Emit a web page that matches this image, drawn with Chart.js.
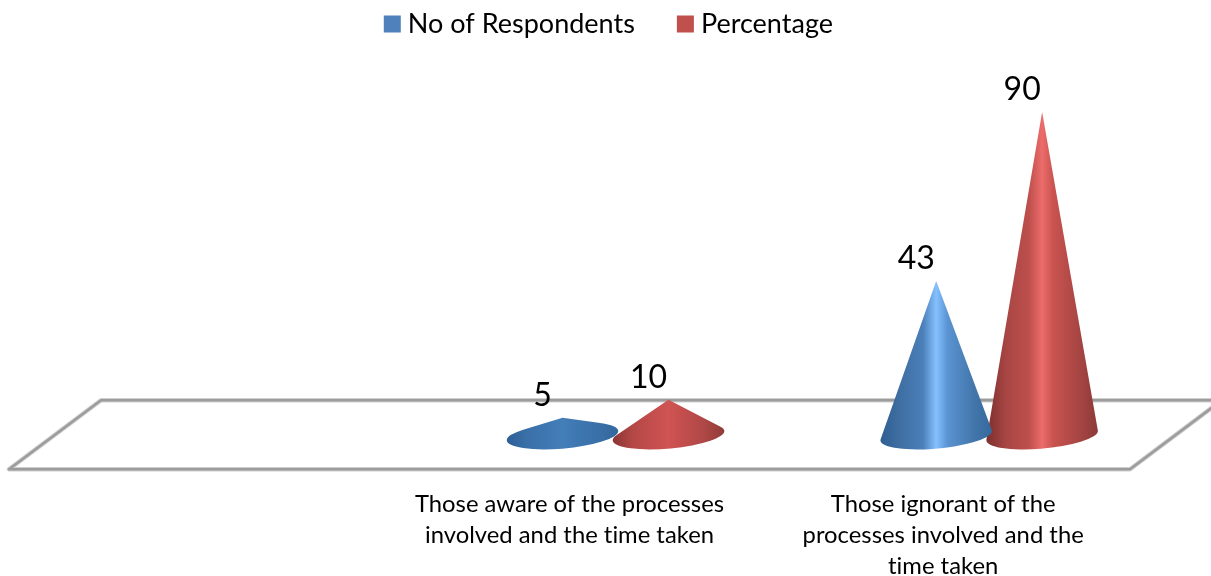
<!DOCTYPE html>
<html>
<head>
<meta charset="utf-8">
<style>
  html, body { margin: 0; padding: 0; background: #fff; }
  canvas { display: block; }
</style>
<script src="https://cdn.jsdelivr.net/npm/chart.js@4"></script>
</head>
<body>
<canvas id="coneChart" width="1211" height="576"></canvas>
<script>
// first category is empty in the original chart
const categories = [
    '',
    ['Those aware of the processes', 'involved and the time taken'],
    ['Those ignorant of the', 'processes involved and the', 'time taken']
];
const respondents = [null, 5, 43];
const percentage = [null, 10, 90];

const fontName = 'Lato, sans-serif';
const depth = 92;        // how far the back edge of the floor is shifted right
const floorRise = 69;    // how far it is shifted up
const tilt = -5 * Math.PI / 180;
const legendShift = 42;  // legend sits over the whole floor, not just the front edge

const gradients = {
    blue: {
        tall: ['#2f5f92', '#3f6fa3', '#4a7fb8', '#85c0ff', '#5a94d2', '#4478ad', '#35689c'],
        flat: ['#2d5f95', '#3a70a8', '#3f78b2', '#457fb9', '#3f78b2', '#3a70a8', '#33679c']
    },
    red: {
        tall: ['#7c2f2d', '#a84644', '#bd4f4c', '#ec6c6b', '#c9534f', '#a84644', '#8c3a38'],
        flat: ['#8a3533', '#b34846', '#c64f4e', '#cf5453', '#c64f4e', '#ae4846', '#8f3b39']
    }
};

const floorPlugin = {
    id: 'floor',
    afterLayout(chart) {
        chart.legend.left += legendShift;
        chart.legend.right += legendShift;
    },
    beforeDraw(chart) {
        // tiny spacing switches off the Lato "ti" ligature
        chart.ctx.letterSpacing = '0.01px';
    },
    beforeDatasetsDraw(chart) {
        const { ctx, chartArea } = chart;
        const l = chartArea.left, r = chartArea.right, b = chartArea.bottom;
        ctx.save();
        ctx.beginPath();
        ctx.moveTo(l, b);
        ctx.lineTo(r, b);
        ctx.lineTo(r + depth, b - floorRise);
        ctx.lineTo(l + depth, b - floorRise);
        ctx.closePath();
        ctx.lineJoin = 'round';
        ctx.strokeStyle = '#cfcfcf';
        ctx.lineWidth = 4.5;
        ctx.stroke();
        ctx.strokeStyle = '#9c9c9c';
        ctx.lineWidth = 2.5;
        ctx.stroke();
        ctx.restore();
    }
};

function drawCone(ctx, bar, colors) {
    const cx = bar.x + depth / 2;
    const rx = bar.width / 2 + 3;
    const ry = 13;
    const baseY = bar.base;
    const apexY = bar.y;
    const h = baseY - apexY;
    const stops = h > rx * 1.5 ? colors.tall : colors.flat;

    const grad = ctx.createLinearGradient(cx - rx, 0, cx + rx, 0);
    const pos = [0, 0.18, 0.38, 0.5, 0.6, 0.82, 1];
    stops.forEach((c, i) => grad.addColorStop(pos[i], c));

    // sides touch the base ellipse at the tangent points
    const t = Math.asin(Math.min(ry / h, 1));
    ctx.save();
    ctx.beginPath();
    ctx.moveTo(cx, apexY);
    ctx.ellipse(cx, baseY, rx, ry, tilt, Math.PI + t, -t, true);
    ctx.closePath();
    ctx.fillStyle = grad;
    ctx.fill();
    ctx.restore();
}

const conePlugin = {
    id: 'cones',
    // the normal bar is swapped for a cone, the bar geometry still comes from the scales
    beforeDatasetDraw(chart, args) {
        const dataset = chart.data.datasets[args.index];
        args.meta.data.forEach((bar, i) => {
            if (dataset.data[i] !== null) drawCone(chart.ctx, bar, dataset.cone);
        });
        return false;
    },
    afterDatasetsDraw(chart) {
        const { ctx } = chart;
        ctx.save();
        ctx.fillStyle = '#000';
        ctx.font = '32px ' + fontName;
        ctx.textAlign = 'center';
        ctx.textBaseline = 'alphabetic';
        chart.data.datasets.forEach((dataset, d) => {
            chart.getDatasetMeta(d).data.forEach((bar, i) => {
                if (dataset.data[i] === null) return;
                ctx.fillText(dataset.data[i], bar.x + depth / 2 - 20, bar.y - 12);
            });
        });
        ctx.restore();
    }
};

new Chart(document.getElementById('coneChart'), {
    type: 'bar',
    data: {
        labels: categories,
        datasets: [
            // borderWidth only widens the legend swatch, the bars are drawn as cones
            { label: 'No of Respondents', data: respondents, backgroundColor: '#4f81bd', borderColor: '#4f81bd', borderWidth: 13, cone: gradients.blue },
            { label: 'Percentage', data: percentage, backgroundColor: '#c0504d', borderColor: '#c0504d', borderWidth: 13, cone: gradients.red }
        ]
    },
    options: {
        responsive: false,
        animation: false,
        categoryPercentage: 0.567,
        barPercentage: 1,
        layout: { padding: { left: 9, right: 81, top: -38, bottom: -18 } },
        plugins: {
            tooltip: { enabled: false },
            legend: {
                position: 'top',
                labels: {
                    boxWidth: 4,
                    boxHeight: 4,
                    padding: 48.5,
                    color: '#000',
                    font: { family: fontName, size: 27 }
                }
            }
        },
        scales: {
            x: {
                grid: { display: false },
                border: { display: false },
                ticks: {
                    color: '#000',
                    padding: 12,
                    maxRotation: 0,
                    autoSkip: false,
                    font: { family: fontName, size: 23.8, lineHeight: 1.3 }
                }
            },
            y: {
                display: false,
                min: -9.33,
                max: 107.9
            }
        }
    },
    plugins: [floorPlugin, conePlugin]
});
</script>
</body>
</html>
